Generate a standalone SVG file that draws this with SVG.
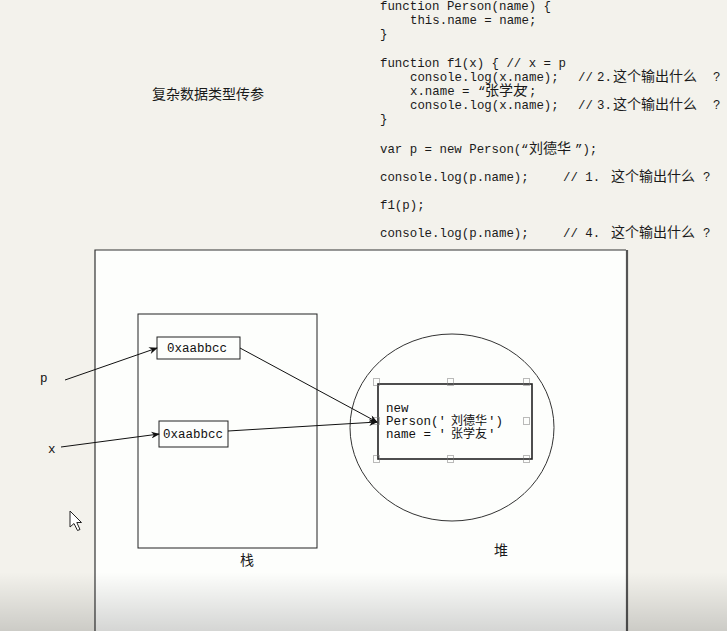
<svg xmlns="http://www.w3.org/2000/svg" width="727" height="631" viewBox="0 0 727 631">
<defs>
<style>
.code{font-family:"Liberation Mono","Noto Sans CJK SC",monospace;font-size:12.4px;fill:#1a1a1a}
.cjk{font-family:"Noto Sans CJK SC","Liberation Sans",sans-serif;font-size:14px;fill:#1a1a1a}
.lbl{font-family:"Liberation Mono","Noto Sans CJK SC",monospace;font-size:12.5px;fill:#111}
.hz{font-family:"Noto Sans CJK SC",sans-serif;font-size:12px;fill:#111}
.frame{fill:none;stroke:#222;stroke-width:1}
.conn{fill:none;stroke:#111;stroke-width:1}
.handle{fill:none;stroke:#777;stroke-width:1;stroke-dasharray:1,1}
</style>
<marker id="ah" viewBox="0 0 10 8" refX="9" refY="4" markerWidth="9" markerHeight="7" markerUnits="userSpaceOnUse" orient="auto">
<path d="M0,0 L10,4 L0,8 L3,4 z" fill="#111"/>
</marker>
<linearGradient id="fade" x1="0" y1="0" x2="0" y2="1">
<stop offset="0" stop-color="#000" stop-opacity="0"/>
<stop offset="1" stop-color="#000" stop-opacity="0.16"/>
</linearGradient>
</defs>
<rect x="0" y="0" width="727" height="631" fill="#f3f2ec"/>

<g id="code">
<text class="code" x="380" y="10">function Person(name) {</text>
<text class="code" x="410" y="24">this.name = name;</text>
<text class="code" x="380" y="38">}</text>
<text class="code" x="380" y="67">function f1(x) { // x = p</text>
<text class="code" x="410" y="81">console.log(x.name);<tspan x="578">//</tspan><tspan x="597">2.</tspan><tspan x="613" class="cjk" font-size="14">这个输出什么</tspan><tspan x="713">?</tspan></text>
<text class="code" x="410" y="95">x.name = <tspan x="478">“</tspan><tspan x="485" class="cjk" font-size="11.5">张学友</tspan><tspan x="521">”</tspan><tspan x="529">;</tspan></text>
<text class="code" x="410" y="109">console.log(x.name);<tspan x="578">//</tspan><tspan x="597">3.</tspan><tspan x="613" class="cjk" font-size="14">这个输出什么</tspan><tspan x="713">?</tspan></text>
<text class="code" x="380" y="123">}</text>
<text class="code" x="380" y="153">var p = new Person(<tspan x="521">“</tspan><tspan x="529" class="cjk" font-size="15.5">刘德华</tspan><tspan x="575">”);</tspan></text>
<text class="code" x="380" y="181">console.log(p.name);<tspan x="563">// 1.</tspan><tspan x="611" class="cjk" font-size="14.5">这个输出什么</tspan><tspan x="703">?</tspan></text>
<text class="code" x="380" y="209">f1(p);</text>
<text class="code" x="380" y="237">console.log(p.name);<tspan x="563">// 4.</tspan><tspan x="611" class="cjk" font-size="14.5">这个输出什么</tspan><tspan x="703">?</tspan></text>
</g>

<g id="title">
<text class="cjk" x="152" y="99">复杂数据类型传参</text>
</g>

<g id="canvas">
<rect x="95" y="250" width="532" height="390" fill="#fdfefc"/>
<path d="M95,640 V250 H626" fill="none" stroke="#333" stroke-width="1.2"/>
<path d="M627,250 V640" fill="none" stroke="#555" stroke-width="2.2"/>
</g>

<g id="stack">
<rect class="frame" x="138" y="314" width="179" height="234"/>
<text class="cjk" x="240" y="565">栈</text>
</g>

<g id="heap">
<ellipse cx="452" cy="427.5" rx="102" ry="93.5" fill="none" stroke="#333" stroke-width="1"/>
<text class="cjk" x="494" y="555">堆</text>
</g>

<g id="box-p">
<rect class="frame" x="157" y="337" width="83" height="22"/>
<text class="lbl" x="167" y="352">0xaabbcc</text>
</g>

<g id="box-x">
<rect class="frame" x="159" y="421" width="69" height="26"/>
<text class="lbl" x="163" y="438">0xaabbcc</text>
</g>

<g id="var-p">
<text class="lbl" x="40" y="382" font-size="13">p</text>
</g>
<g id="var-x">
<text class="lbl" x="48" y="453" font-size="13">x</text>
</g>

<g id="object">
<rect x="378" y="384" width="154" height="75" fill="none" stroke="#222" stroke-width="1.6"/>
<rect class="handle" x="373.5" y="378.5" width="6" height="7"/>
<rect class="handle" x="447.5" y="378.5" width="6" height="7"/>
<rect class="handle" x="523.5" y="378.5" width="6" height="7"/>
<rect class="handle" x="373.5" y="417.5" width="6" height="7"/>
<rect class="handle" x="523.5" y="417.5" width="6" height="7"/>
<rect class="handle" x="373.5" y="455.5" width="6" height="7"/>
<rect class="handle" x="447.5" y="455.5" width="6" height="7"/>
<rect class="handle" x="523.5" y="455.5" width="6" height="7"/>
<text class="lbl" font-size="13" x="386" y="412">new</text>
<text class="lbl" font-size="13" x="386" y="425">Person('<tspan x="451" class="hz">刘德华</tspan><tspan x="488">')</tspan></text>
<text class="lbl" font-size="13" x="386" y="438">name = '<tspan x="451" class="hz">张学友</tspan><tspan x="488">'</tspan></text>
</g>

<g id="connectors">
<line class="conn" x1="65" y1="380" x2="157" y2="348" marker-end="url(#ah)"/>
<line class="conn" x1="61" y1="447" x2="159" y2="434" marker-end="url(#ah)"/>
<line class="conn" x1="240" y1="348" x2="377" y2="422" marker-end="url(#ah)"/>
<line class="conn" x1="228" y1="431" x2="377" y2="422" marker-end="url(#ah)"/>
</g>

<g id="cursor">
<polygon points="70,511 70,527 74,523.5 77.5,530.5 80,529.5 76.8,522.5 81.5,522.5" fill="#fff" stroke="#222" stroke-width="1"/>
</g>

<rect x="0" y="572" width="727" height="59" fill="url(#fade)"/>
</svg>
